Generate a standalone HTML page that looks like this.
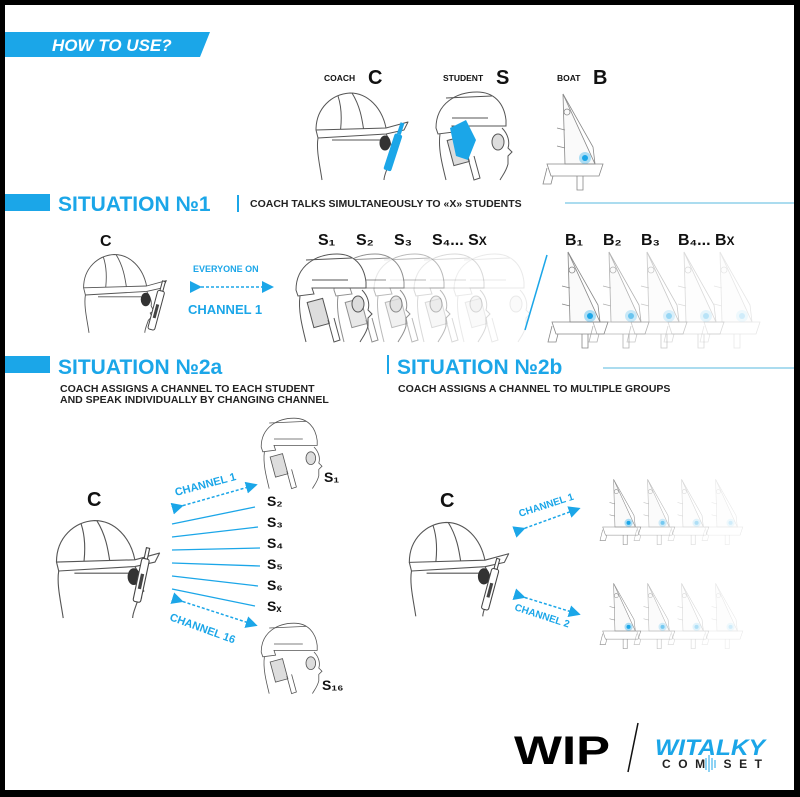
<!DOCTYPE html>
<html><head><meta charset="utf-8"><style>
html,body{margin:0;padding:0;background:#000;}
svg{display:block;}
text{font-family:"Liberation Sans",sans-serif;font-weight:bold;}
</style></head><body>
<svg width="800" height="797" viewBox="0 0 800 797" xmlns="http://www.w3.org/2000/svg">
<defs>
<g id="coach" fill="none" stroke="#555" stroke-width="1" stroke-linejoin="round">
 <path d="M4,42 C4,20 20,6 38,5 C56,5 70,20 74,40" fill="#fff"/>
 <path d="M26,8 C30,20 30,32 28,46 M40,5 C48,18 50,30 52,44"/>
 <path d="M4,42 L74,40 L96,34 L92,42 L74,46 L6,50 Z" fill="#fff"/>
 <path d="M6,50 C4,62 8,78 10,92 M74,46 C78,52 80,58 79,62 L82,68 L78,70 L80,74 L76,78 C74,84 72,88 72,92"/>
 <ellipse cx="73" cy="55" rx="5" ry="7" fill="#333" stroke="#333"/>
 <path d="M20,52 L68,52"/>
</g>
<g id="radio"><rect x="0" y="0" width="7" height="40" rx="2" fill="#fff" stroke="#444"/><rect x="2" y="14" width="3" height="14" fill="#444"/><rect x="2" y="-10" width="3" height="10" fill="#fff" stroke="#444"/></g>
<g id="helmet" fill="none" stroke="#555" stroke-width="1">
 <path d="M4,40 C4,15 25,4 45,4 C62,4 72,15 74,32 L74,38 L20,38 L22,44 L6,46 Z" fill="#fff"/>
 <path d="M14,10 L60,8 M20,30 L56,30"/>
 <path d="M70,40 C76,46 78,54 76,60 L80,64 L76,68 L76,76 C74,84 70,88 68,92 M8,46 C6,60 10,76 14,92"/>
 <ellipse cx="66" cy="54" rx="6" ry="8" fill="#ddd"/>
 <rect x="18" y="50" width="16" height="26" fill="#ddd" transform="rotate(-15 26 62)"/>
 <path d="M36,70 L42,92 L48,90 L42,68"/>
</g>
<g id="boat" fill="none" stroke="#888" stroke-width="0.8">
 <path d="M20,2 L22,72 L52,72 Z" fill="#fafafa"/>
 <path d="M20,2 L50,55 L52,72"/>
 <circle cx="24" cy="20" r="3"/>
 <path d="M14,36 L22,38 M14,54 L22,56"/>
 <path d="M4,72 L60,72 L56,84 L8,84 Z M4,76 L0,92 L8,92 L10,84 M34,84 L34,98 L40,98 L40,84"/>
 <circle cx="42" cy="66" r="6" fill="#1ba6e8" fill-opacity="0.35" stroke="none"/>
 <circle cx="42" cy="66" r="3" fill="#1ba6e8" stroke="none"/>
</g>
<marker id="ah" markerWidth="8" markerHeight="8" refX="4" refY="4" orient="auto"><path d="M0,0 L8,4 L0,8 Z" fill="#1ba6e8"/></marker>
</defs>
<rect x="5" y="5" width="789" height="785" fill="#fff"/>

<path d="M5,32 L210,32 L200,57 L5,57 Z" fill="#1ba6e8"/>
<text x="52" y="51" fill="#fff" font-size="17" font-style="italic">HOW TO USE?</text>

<text x="324" y="81" font-size="8.5" fill="#111">COACH</text><text x="368" y="84" font-size="20" fill="#111">C</text>
<text x="443" y="81" font-size="8.5" fill="#111">STUDENT</text><text x="496" y="84" font-size="20" fill="#111">S</text>
<text x="557" y="81" font-size="8.5" fill="#111">BOAT</text><text x="593" y="84" font-size="20" fill="#111">B</text>
<use href="#coach" x="312" y="88"/>
<g transform="translate(395,133) rotate(18)"><rect x="0" y="0" width="8" height="38" rx="2" fill="#1ba6e8"/><rect x="2" y="-12" width="4" height="12" fill="#1ba6e8"/></g>
<use href="#helmet" x="432" y="88"/>
<path d="M450,128 L466,120 L476,140 L468,160 L456,156 Z" fill="#1ba6e8"/>
<use href="#boat" x="543" y="92"/>

<rect x="5" y="194" width="45" height="17" fill="#1ba6e8"/>
<text x="58" y="211" font-size="21" fill="#1ba6e8">SITUATION №1</text>
<rect x="237" y="195" width="2" height="17" fill="#1ba6e8"/>
<text x="250" y="207" font-size="10.5" fill="#222" font-weight="normal">COACH TALKS SIMULTANEOUSLY TO «X» STUDENTS</text>
<line x1="565" y1="203" x2="794" y2="203" stroke="#8fd0ea" stroke-width="1.5"/>

<text x="100" y="246" font-size="16" fill="#111">C</text>
<use href="#coach" transform="translate(80,250) scale(0.9)"/>
<use href="#radio" transform="translate(158,290) rotate(15)"/>
<text x="193" y="272" font-size="9" fill="#1ba6e8">EVERYONE ON</text>
<line x1="196" y1="287" x2="268" y2="287" stroke="#1ba6e8" stroke-width="1.5" stroke-dasharray="3,2" marker-start="url(#ah)" marker-end="url(#ah)"/>
<text x="188" y="314" font-size="13" fill="#1ba6e8">CHANNEL 1</text>

<text x="318" y="245" font-size="16" fill="#111">S₁</text>
<text x="356" y="245" font-size="16" fill="#111">S₂</text>
<text x="394" y="245" font-size="16" fill="#111">S₃</text>
<text x="432" y="245" font-size="16" fill="#111">S₄... S<tspan font-size="12">X</tspan></text>
<use href="#helmet" x="450" y="250" opacity="0.12"/>
<use href="#helmet" x="410" y="250" opacity="0.22"/>
<use href="#helmet" x="370" y="250" opacity="0.4"/>
<use href="#helmet" x="330" y="250" opacity="0.65"/>
<use href="#helmet" x="292" y="250"/>
<line x1="525" y1="330" x2="547" y2="255" stroke="#1ba6e8" stroke-width="1.5"/>
<text x="565" y="245" font-size="16" fill="#111">B₁</text>
<text x="603" y="245" font-size="16" fill="#111">B₂</text>
<text x="641" y="245" font-size="16" fill="#111">B₃</text>
<text x="678" y="245" font-size="16" fill="#111">B₄... B<tspan font-size="12">X</tspan></text>
<use href="#boat" x="700" y="250" opacity="0.2"/>
<use href="#boat" x="664" y="250" opacity="0.3"/>
<use href="#boat" x="627" y="250" opacity="0.45"/>
<use href="#boat" x="589" y="250" opacity="0.65"/>
<use href="#boat" x="548" y="250"/>

<rect x="5" y="356" width="45" height="17" fill="#1ba6e8"/>
<text x="58" y="374" font-size="21" fill="#1ba6e8">SITUATION №2a</text>
<text x="60" y="392" font-size="10.5" fill="#222" font-weight="normal">COACH ASSIGNS A CHANNEL TO EACH STUDENT</text>
<text x="60" y="403" font-size="10.5" fill="#222" font-weight="normal">AND SPEAK INDIVIDUALLY BY CHANGING CHANNEL</text>
<rect x="387" y="355" width="2" height="19" fill="#1ba6e8"/>
<text x="397" y="374" font-size="21" fill="#1ba6e8">SITUATION №2b</text>
<line x1="603" y1="368" x2="794" y2="368" stroke="#8fd0ea" stroke-width="1.5"/>
<text x="398" y="392" font-size="10.5" fill="#222" font-weight="normal">COACH ASSIGNS A CHANNEL TO MULTIPLE GROUPS</text>

<text x="87" y="506" font-size="20" fill="#111">C</text>
<use href="#coach" transform="translate(52,515) scale(1.12)"/>
<use href="#radio" transform="translate(142,558) rotate(12) scale(1.1)"/>
<use href="#helmet" transform="translate(258,415) scale(0.8)"/>
<text x="324" y="482" font-size="14" fill="#111">S₁</text>
<use href="#helmet" transform="translate(258,620) scale(0.8)"/>
<text x="322" y="690" font-size="14" fill="#111">S₁₆</text>
<g font-size="14" fill="#111">
<text x="267" y="506">S₂</text><text x="267" y="527">S₃</text><text x="267" y="548">S₄</text>
<text x="267" y="569">S₅</text><text x="267" y="590">S₆</text><text x="267" y="611">Sₓ</text>
</g>
<g stroke="#1ba6e8" stroke-width="1.3">
<line x1="172" y1="524" x2="255" y2="507"/><line x1="172" y1="537" x2="258" y2="527"/>
<line x1="172" y1="550" x2="260" y2="548"/><line x1="172" y1="563" x2="260" y2="566"/>
<line x1="172" y1="576" x2="258" y2="586"/><line x1="172" y1="589" x2="255" y2="606"/>
</g>
<line x1="178" y1="507" x2="252" y2="486" stroke="#1ba6e8" stroke-width="1.5" stroke-dasharray="3,2" marker-start="url(#ah)" marker-end="url(#ah)"/>
<text transform="translate(176,496) rotate(-15)" font-size="11" fill="#1ba6e8">CHANNEL 1</text>
<line x1="178" y1="600" x2="252" y2="624" stroke="#1ba6e8" stroke-width="1.5" stroke-dasharray="3,2" marker-start="url(#ah)" marker-end="url(#ah)"/>
<text transform="translate(169,620) rotate(20)" font-size="11" fill="#1ba6e8">CHANNEL 16</text>

<text x="440" y="507" font-size="20" fill="#111">C</text>
<use href="#coach" transform="translate(405,517) scale(1.08)"/>
<use href="#radio" transform="translate(492,568) rotate(15) scale(1.05)"/>
<line x1="520" y1="530" x2="575" y2="510" stroke="#1ba6e8" stroke-width="1.5" stroke-dasharray="3,2" marker-start="url(#ah)" marker-end="url(#ah)"/>
<text transform="translate(520,517) rotate(-18)" font-size="10" fill="#1ba6e8">CHANNEL 1</text>
<line x1="520" y1="596" x2="575" y2="613" stroke="#1ba6e8" stroke-width="1.5" stroke-dasharray="3,2" marker-start="url(#ah)" marker-end="url(#ah)"/>
<text transform="translate(514,610) rotate(18)" font-size="10" fill="#1ba6e8">CHANNEL 2</text>
<g transform="translate(600,478) scale(0.68)">
<use href="#boat" x="150" y="0" opacity="0.2"/><use href="#boat" x="100" y="0" opacity="0.35"/><use href="#boat" x="50" y="0" opacity="0.6"/><use href="#boat" x="0" y="0"/>
</g>
<g transform="translate(600,582) scale(0.68)">
<use href="#boat" x="150" y="0" opacity="0.2"/><use href="#boat" x="100" y="0" opacity="0.35"/><use href="#boat" x="50" y="0" opacity="0.6"/><use href="#boat" x="0" y="0"/>
</g>

<text x="514" y="764" font-size="40" font-weight="900" fill="#000" textLength="96" lengthAdjust="spacingAndGlyphs">WIP</text>
<line x1="638" y1="723" x2="628" y2="772" stroke="#111" stroke-width="1.5"/>
<text x="655" y="755" font-size="22" font-style="italic" fill="#1ba6e8" font-weight="900" textLength="110" lengthAdjust="spacingAndGlyphs">WITALKY</text>
<text x="662" y="768" font-size="12" fill="#222" font-weight="normal" textLength="100" lengthAdjust="spacing">COM  SET</text>
<g stroke="#1ba6e8" stroke-width="1"><line x1="706" y1="758" x2="706" y2="770"/><line x1="709" y1="755" x2="709" y2="772"/><line x1="712" y1="758" x2="712" y2="770"/><line x1="715" y1="760" x2="715" y2="768"/></g>
</svg>
</body></html>
